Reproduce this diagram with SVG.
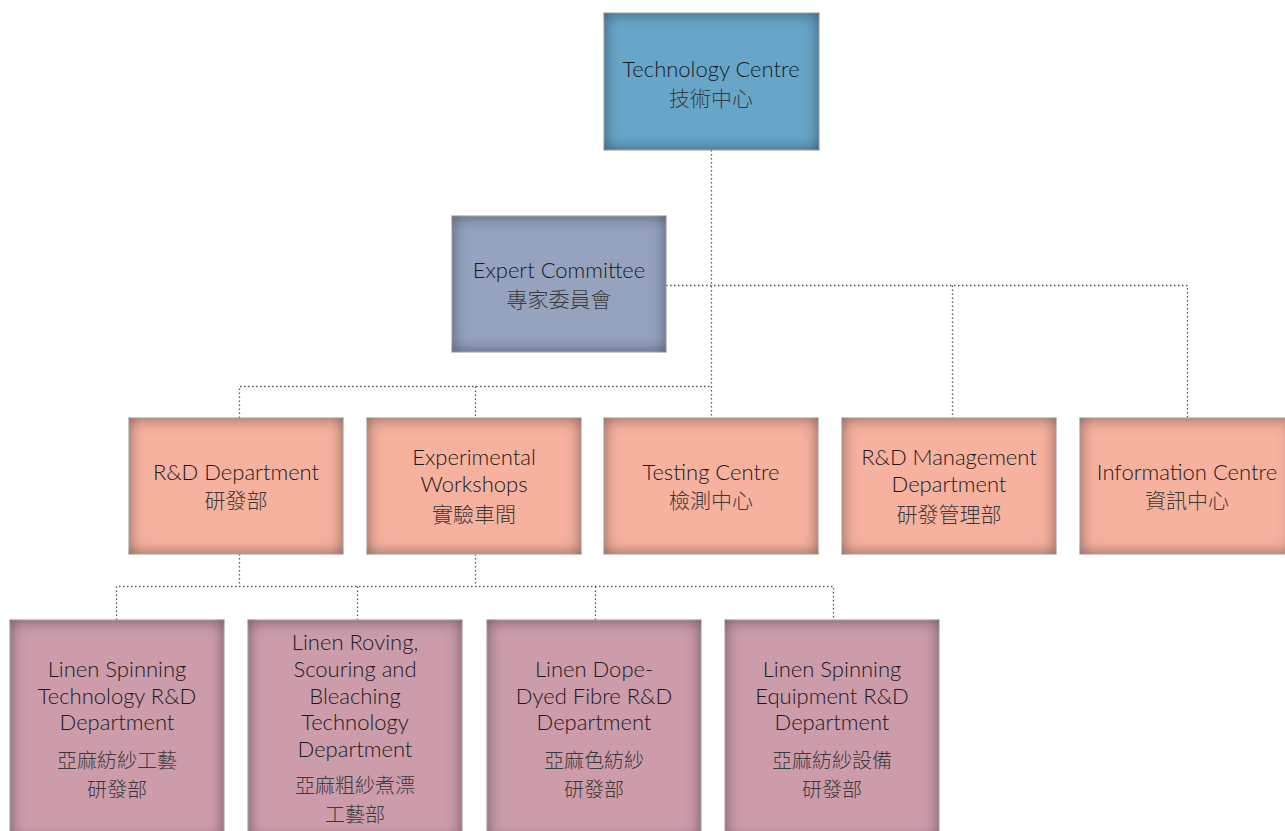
<svg xmlns="http://www.w3.org/2000/svg" width="1285" height="831" viewBox="0 0 1285 831">
<defs>
<filter id="inner" x="-10%" y="-10%" width="120%" height="120%" color-interpolation-filters="sRGB">
<feFlood flood-color="#000000" flood-opacity="0.5" result="f"/>
<feComposite in="f" in2="SourceAlpha" operator="out" result="o"/>
<feGaussianBlur in="o" stdDeviation="8" result="b"/>
<feComposite in="b" in2="SourceAlpha" operator="in" result="s"/>
<feMerge><feMergeNode in="SourceGraphic"/><feMergeNode in="s"/></feMerge>
</filter>
</defs>
<style>
rect.box{stroke:#d4d4d4;stroke-width:1}
.blue{fill:#68a6c9}
.slate{fill:#95a3bf}
.peach{fill:#f7b29f}
.mauve{fill:#cd9cab}
text{font-family:"Lato","Open Sans",sans-serif;font-weight:300;font-size:22px;fill:#1a1a1a;text-anchor:middle}
text.zh{font-family:"Noto Sans CJK TC",sans-serif;font-weight:300;font-size:21px;fill:#3a3a3a}
text.zs{font-size:20px}
.con path{fill:none;stroke:#555;stroke-width:1.3;stroke-dasharray:1.5 2.5}
</style>
<rect width="1285" height="831" fill="#fff"/>
<g class="con">
<path d="M711.5 150V418"/>
<path d="M666 285.5H1187.5V418M952.5 285.5V418"/>
<path d="M239.5 418V386.5H711.5M475.5 386.5V418"/>
<path d="M239.5 554V586.5M475.5 554V586.5M116.5 620V586.5H833.5V620M357.5 586.5V620M595.5 586.5V620"/>
</g>
<g id="technology-centre">
<rect class="box blue" filter="url(#inner)" x="604" y="13" width="215" height="137"/>
<text x="711" y="77">Technology Centre</text>
<text class="zh" x="711" y="106">技術中心</text>
</g>
<g id="expert-committee">
<rect class="box slate" filter="url(#inner)" x="452" y="216" width="214" height="136"/>
<text x="559" y="278">Expert Committee</text>
<text class="zh" x="559" y="307">專家委員會</text>
</g>
<g id="rd-department">
<rect class="box peach" filter="url(#inner)" x="129" y="418" width="214" height="136"/>
<text x="236" y="480">R&amp;D Department</text>
<text class="zh" x="236" y="508">研發部</text>
</g>
<g id="experimental-workshops">
<rect class="box peach" filter="url(#inner)" x="367" y="418" width="214" height="136"/>
<text x="474" y="465">Experimental</text>
<text x="474" y="491.5">Workshops</text>
<text class="zh" x="474" y="522">實驗車間</text>
</g>
<g id="testing-centre">
<rect class="box peach" filter="url(#inner)" x="604" y="418" width="214" height="136"/>
<text x="711" y="480">Testing Centre</text>
<text class="zh" x="711" y="508">檢測中心</text>
</g>
<g id="rd-management">
<rect class="box peach" filter="url(#inner)" x="842" y="418" width="214" height="136"/>
<text x="949" y="465">R&amp;D Management</text>
<text x="949" y="491.5">Department</text>
<text class="zh" x="949" y="522">研發管理部</text>
</g>
<g id="information-centre">
<rect class="box peach" filter="url(#inner)" x="1080" y="418" width="214" height="136"/>
<text x="1187" y="480">Information Centre</text>
<text class="zh" x="1187" y="508">資訊中心</text>
</g>
<g id="linen-spinning-tech">
<rect class="box mauve" filter="url(#inner)" x="10" y="620" width="214" height="220"/>
<text x="117" y="677">Linen Spinning</text>
<text x="117" y="704">Technology R&amp;D</text>
<text x="117" y="730">Department</text>
<text class="zh zs" x="117" y="768">亞麻紡紗工藝</text>
<text class="zh zs" x="117" y="797">研發部</text>
</g>
<g id="linen-roving">
<rect class="box mauve" filter="url(#inner)" x="248" y="620" width="214" height="220"/>
<text x="355" y="650">Linen Roving,</text>
<text x="355" y="677">Scouring and</text>
<text x="355" y="704">Bleaching</text>
<text x="355" y="730">Technology</text>
<text x="355" y="757">Department</text>
<text class="zh zs" x="355" y="793">亞麻粗紗煮漂</text>
<text class="zh zs" x="355" y="822">工藝部</text>
</g>
<g id="linen-dope-dyed">
<rect class="box mauve" filter="url(#inner)" x="487" y="620" width="214" height="220"/>
<text x="594" y="677">Linen Dope-</text>
<text x="594" y="704">Dyed Fibre R&amp;D</text>
<text x="594" y="730">Department</text>
<text class="zh zs" x="594" y="768">亞麻色紡紗</text>
<text class="zh zs" x="594" y="797">研發部</text>
</g>
<g id="linen-spinning-equipment">
<rect class="box mauve" filter="url(#inner)" x="725" y="620" width="214" height="220"/>
<text x="832" y="677">Linen Spinning</text>
<text x="832" y="704">Equipment R&amp;D</text>
<text x="832" y="730">Department</text>
<text class="zh zs" x="832" y="768">亞麻紡紗設備</text>
<text class="zh zs" x="832" y="797">研發部</text>
</g>
</svg>
